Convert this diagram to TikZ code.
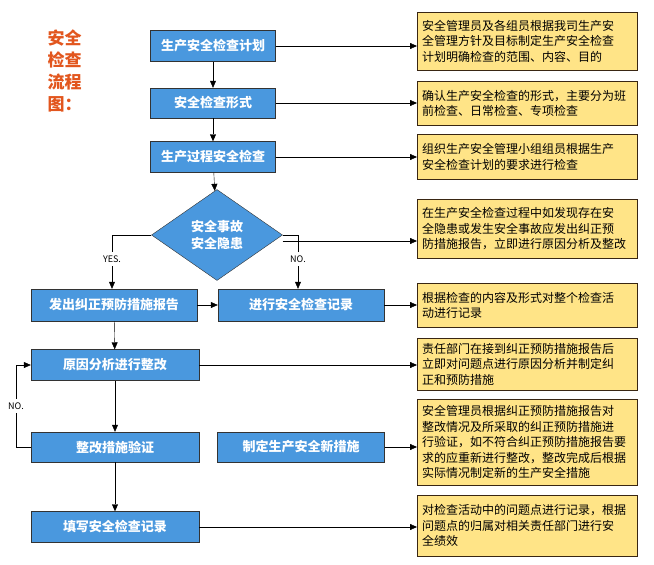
\documentclass[tikz,border=0pt]{standalone}
\usepackage{fontspec}
\setmainfont{Noto Sans CJK SC}
\usetikzlibrary{shapes.geometric,arrows.meta}
\definecolor{bl}{RGB}{74,152,222}
\definecolor{yl}{RGB}{255,228,135}
\definecolor{ttl}{RGB}{226,86,30}
\begin{document}
\begin{tikzpicture}[x=1pt,y=-1pt,
 b/.style={draw=black!80,fill=bl,minimum height=31pt,text=white,font=\fontsize{13}{15}\selectfont\bfseries,inner sep=0pt},
 yb/.style={draw=black!70!brown,fill=yl,text width=210pt,minimum width=220pt,align=left,font=\fontsize{12}{15.5}\selectfont,inner sep=5pt,anchor=north west},
 a/.style={-{Triangle[length=7pt,width=6pt]},black},
 l/.style={font=\fontsize{9}{10}\selectfont\rmfamily}]
\useasboundingbox (0,0) rectangle (654,565);
\node[font=\fontsize{17}{22}\selectfont\bfseries,text=ttl,align=left,anchor=north west] (t) at (44,26) {安全\\检查\\流程\\图：};
\node[b,minimum width=125pt] (n1) at (213,46) {生产安全检查计划};
\node[b,minimum width=125pt,minimum height=30pt] (n2) at (213,103) {安全检查形式};
\node[b,minimum width=125pt] (n3) at (213,157) {生产过程安全检查};
\node[diamond,draw=black!80,fill=bl,text=white,font=\fontsize{13}{17}\selectfont\bfseries,minimum width=131pt,minimum height=91pt,inner sep=0pt,align=center,aspect=1.44] (d) at (217,235) {安全事故\\安全隐患};
\node[b,minimum width=166pt,minimum height=32pt] (n5) at (114,305) {发出纠正预防措施报告};
\node[b,minimum width=166pt,minimum height=32pt] (n6) at (301,305) {进行安全检查记录};
\node[b,minimum width=168pt] (n7) at (115,365) {原因分析进行整改};
\node[b,minimum width=168pt,minimum height=30pt] (n8) at (115,447) {整改措施验证};
\node[b,minimum width=167pt,minimum height=30pt] (n9) at (301,447) {制定生产安全新措施};
\node[b,minimum width=168pt] (n10) at (115,527) {填写安全检查记录};
\node[yb,minimum height=58pt] (y1) at (417,12) {安全管理员及各组员根据我司生产安\\全管理方针及目标制定生产安全检查\\计划明确检查的范围、内容、目的};
\node[yb,minimum height=44pt] (y2) at (417,81) {确认生产安全检查的形式，主要分为班\\前检查、日常检查、专项检查};
\node[yb,minimum height=45pt] (y3) at (417,134) {组织生产安全管理小组组员根据生产\\安全检查计划的要求进行检查};
\node[yb,minimum height=59pt] (y4) at (417,199) {在生产安全检查过程中如发现存在安\\全隐患或发生安全事故应发出纠正预\\防措施报告，立即进行原因分析及整改};
\node[yb,minimum height=44pt] (y5) at (417,283) {根据检查的内容及形式对整个检查活\\动进行记录};
\node[yb,minimum height=52pt] (y6) at (417,338) {责任部门在接到纠正预防措施报告后\\立即对问题点进行原因分析并制定纠\\正和预防措施};
\node[yb,minimum height=86pt] (y7) at (417,399) {安全管理员根据纠正预防措施报告对\\整改情况及所采取的纠正预防措施进\\行验证，如不符合纠正预防措施报告要\\求的应重新进行整改，整改完成后根据\\实际情况制定新的生产安全措施};
\node[yb,minimum height=61pt] (y8) at (417,495) {对检查活动中的问题点进行记录，根据\\问题点的归属对相关责任部门进行安\\全绩效};
\coordinate (yl) at (112,235);
\coordinate (nr) at (298,235);
\coordinate (lp) at (16,447);
\draw[a] (n1) -- (n2);
\draw[a] (n2) -- (n3);
\draw[a] (n3) -- (d);
\draw[a] (n1.east) -- (n1.east -| y1.west);
\draw[a] (n2.east) -- (n2.east -| y2.west);
\draw[a] (n3.east) -- (n3.east -| y3.west);
\draw[a] ([yshift=-6pt]d.east) -- ([yshift=-6pt]d.east -| y4.west);
\draw[a] (n6.east) -- (n6.east -| y5.west);
\draw[a] (n7.east) -- (n7.east -| y6.west);
\draw[a] (n9.east) -- (n9.east -| y7.west);
\draw[a] (n10.east) -- (n10.east -| y8.west);
\draw[a] (d.west) -- (yl) -- node[l,fill=white,pos=0.45]{YES.} (yl |- n5.north);
\draw[a] (d.east) -- (nr) -- node[l,fill=white,pos=0.45]{NO.} (nr |- n6.north);
\draw[a] (n5) -- (n6);
\draw[a] (n5) -- (n7);
\draw[a] (n7) -- (n8);
\draw[a] (n8) -- (n10);
\draw[a] (n8.west) -- (lp) -- node[l,fill=white]{NO.} (lp |- n7.west) -- (n7.west);
\end{tikzpicture}
\end{document}
